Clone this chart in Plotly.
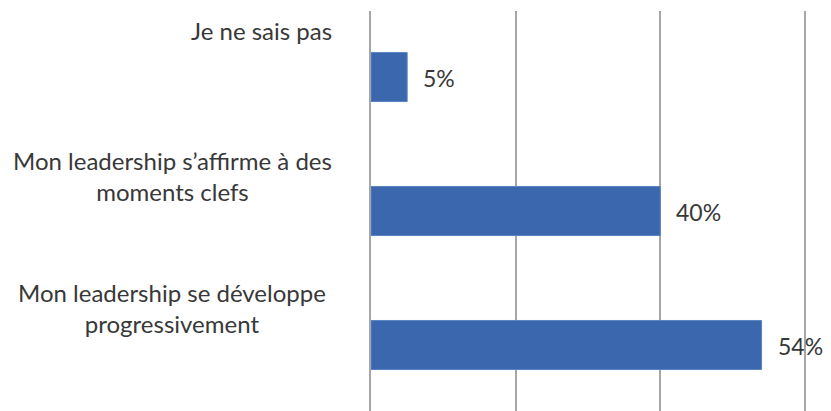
import plotly.graph_objects as go

# Survey answers, top to bottom
categories = [
    "Je ne sais pas",
    "Mon leadership s’affirme à des moments clefs",
    "Mon leadership se développe progressivement",
]
label_lines = [
    "Je ne sais pas",
    "Mon leadership s’affirme à des<br>moments clefs",
    "Mon leadership se développe<br>progressivement",
]
values = [5, 40, 54]
tick_values = [0, 20, 40, 60]

W, H = 831, 411
LEFT, TOP = 371, 11
plot_w = W - LEFT
x_max = 63.6

BAR_COLOR = "#3A67AE"
TEXT_COLOR = "#383838"
GRID_COLOR = "#A6A6A6"
FONT = "Lato, Carlito, Calibri, sans-serif"
FONT_SIZE = 24

fig = go.Figure()
fig.add_trace(
    go.Bar(
        y=categories,
        x=values,
        orientation="h",
        width=0.366,
        marker=dict(color=BAR_COLOR, line=dict(color="#5B84C2", width=1)),
        hoverinfo="skip",
    )
)

annotations = []
# value labels just past the end of each bar
for cat, v in zip(categories, values):
    annotations.append(
        dict(
            x=v, y=cat, xref="x", yref="y",
            text=f"{v}%", showarrow=False,
            xanchor="left", yanchor="middle", xshift=14, yshift=-1,
            font=dict(family=FONT, size=FONT_SIZE - 1, color=TEXT_COLOR),
        )
    )

# category labels sit to the left, raised above their bars
label_centers = [261, 172, 172]
label_shifts = [47, 35, 37]
for cat, txt, cx, dy in zip(categories, label_lines, label_centers, label_shifts):
    annotations.append(
        dict(
            x=(cx - LEFT) / plot_w, y=cat, xref="paper", yref="y",
            text=txt, showarrow=False,
            xanchor="center", yanchor="middle", yshift=dy, align="center",
            font=dict(family=FONT, size=FONT_SIZE, color=TEXT_COLOR),
        )
    )

fig.update_layout(
    width=W, height=H,
    margin=dict(l=LEFT, r=0, t=TOP, b=0),
    paper_bgcolor="white", plot_bgcolor="white",
    showlegend=False,
    bargap=0.6,
    annotations=annotations,
    xaxis=dict(
        range=[0, x_max],
        tickvals=tick_values,
        showticklabels=False,
        showgrid=True, gridcolor=GRID_COLOR, gridwidth=1.5,
        zeroline=False,
        showline=False,
        fixedrange=True,
    ),
    yaxis=dict(
        categoryorder="array", categoryarray=categories,
        range=[2.4925, -0.4925],
        showticklabels=False,
        showgrid=False, zeroline=False,
        showline=True, linecolor=GRID_COLOR, linewidth=1.5,
        fixedrange=True,
    ),
)

fig.write_html("out.html", config={"displayModeBar": False})
